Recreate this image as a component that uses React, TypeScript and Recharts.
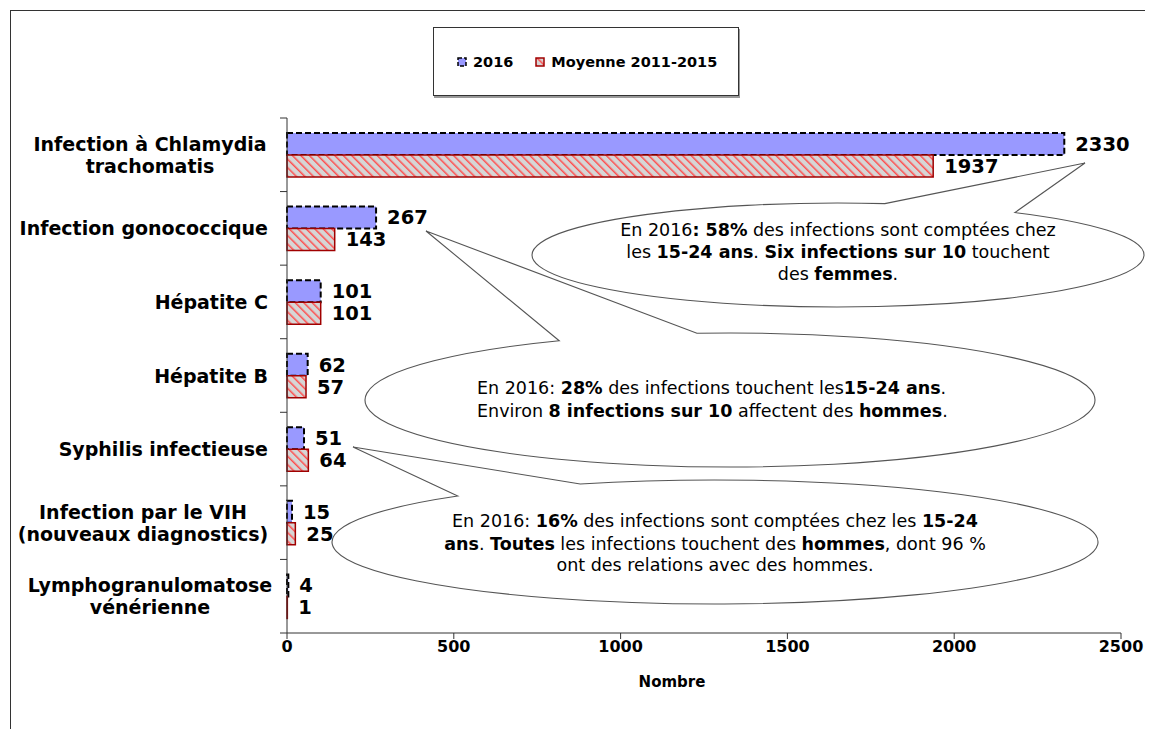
import { BarChart, Bar, XAxis, YAxis, Legend, LabelList } from "recharts";

const categories = [
  "Infection à Chlamydia\ntrachomatis",
  "Infection gonococcique",
  "Hépatite C",
  "Hépatite B",
  "Syphilis infectieuse",
  "Infection par le VIH\n(nouveaux diagnostics)",
  "Lymphogranulomatose\nvénérienne",
];
const cases2016 = [2330, 267, 101, 62, 51, 15, 4];
const average2011to2015 = [1937, 143, 101, 57, 64, 25, 1];
const xTicks = [0, 500, 1000, 1500, 2000, 2500];
const seriesNames = ["2016", "Moyenne 2011-2015"];

const data = categories.map((name, i) => ({
  name,
  current: cases2016[i],
  average: average2011to2015[i],
}));

const W = 1145;
const H = 721;
const MARGIN = { top: 110, right: 32, bottom: 36, left: 0 };
const Y_AXIS_W = 279;
const X_AXIS_H = 60;
const BAND = (H - MARGIN.top - MARGIN.bottom - X_AXIS_H) / categories.length;
const FONT = "'DejaVu Sans', Verdana, sans-serif";
const AXIS = "#333";

function CategoryTick(props: any) {
  const { y, payload, index } = props;
  const lines = String(payload.value).split("\n");
  const multi = lines.length > 1;
  // the two-line labels are centred; the VIH one sits a little further left
  const centre = index === 5 ? 135 : 142;
  return (
    <g>
      {index === 0 && (
        <line x1={Y_AXIS_W - 7} x2={Y_AXIS_W} y1={y - BAND / 2} y2={y - BAND / 2} stroke={AXIS} />
      )}
      <line x1={Y_AXIS_W - 7} x2={Y_AXIS_W} y1={y + BAND / 2} y2={y + BAND / 2} stroke={AXIS} />
      <text
        fontFamily={FONT}
        fontSize={19}
        fontWeight="bold"
        fill="#000"
        textAnchor={multi ? "middle" : "end"}
      >
        {lines.map((line, i) => (
          <tspan key={i} x={multi ? centre : 260} y={y + (i - (lines.length - 1) / 2) * 22 + 7}>
            {line}
          </tspan>
        ))}
      </text>
    </g>
  );
}

function LegendIcon({ index }: { index: number }) {
  return (
    <svg width={10} height={10} style={{ marginRight: 6, flex: "none" }}>
      {index === 0 ? (
        <rect x={1} y={1} width={8} height={8} fill="#9999ff" stroke="#000" strokeWidth={1.5} strokeDasharray="4 2" />
      ) : (
        <rect x={1} y={1} width={8} height={8} fill="url(#hatch)" stroke="#a00000" strokeWidth={1.5} />
      )}
    </svg>
  );
}

function LegendBox() {
  return (
    <div
      style={{
        boxSizing: "border-box",
        width: 306,
        height: 69,
        border: "1px solid #333",
        boxShadow: "1px 2px 0 #999",
        background: "#fff",
        display: "flex",
        alignItems: "center",
        paddingLeft: 23,
        fontFamily: FONT,
        fontSize: 14.5,
        fontWeight: "bold",
        color: "#000",
        whiteSpace: "nowrap",
      }}
    >
      {seriesNames.map((name, i) => (
        <span key={name} style={{ display: "flex", alignItems: "center", marginRight: 22 }}>
          <LegendIcon index={i} />
          {name}
        </span>
      ))}
    </div>
  );
}

type Pt = [number, number];

function ellipsePoint(cx: number, cy: number, rx: number, ry: number, deg: number): Pt {
  const t = (deg * Math.PI) / 180;
  return [cx + rx * Math.cos(t), cy + ry * Math.sin(t)];
}

interface CalloutProps {
  cx: number;
  cy: number;
  rx: number;
  ry: number;
  tip: Pt;
  from: number;
  to: number;
}

// oval speech bubble whose wedge leaves the rim between two angles
function Callout({ cx, cy, rx, ry, tip, from, to }: CalloutProps) {
  const a = ellipsePoint(cx, cy, rx, ry, from);
  const b = ellipsePoint(cx, cy, rx, ry, to);
  const d = `M ${a[0]} ${a[1]} L ${tip[0]} ${tip[1]} L ${b[0]} ${b[1]} A ${rx} ${ry} 0 1 1 ${a[0]} ${a[1]} Z`;
  return <path d={d} fill="#fff" stroke="#555" strokeWidth={1.1} />;
}

function Notes() {
  const txt = { fontFamily: FONT, fontSize: 17.5, fill: "#000" };
  return (
    <svg
      width={W}
      height={H}
      style={{ position: "absolute", left: 0, top: 0, pointerEvents: "none" }}
    >
      <g transform="translate(-8,-8)">
        <Callout cx={730} cy={400} rx={365} ry={67} tip={[426, 231]} from={-117.9} to={-95.2} />
        <Callout cx={838} cy={255} rx={306} ry={52} tip={[1085, 163]} from={-81.2} to={-54.7} />
        <Callout cx={715} cy={542} rx={383} ry={62} tip={[353, 447]} from={-132.2} to={-110.6} />

        <text {...txt} textAnchor="middle">
          <tspan x={838} y={236}>
            En 2016<tspan fontWeight="bold">: 58%</tspan> des infections sont comptées chez
          </tspan>
          <tspan x={838} y={258}>
            les <tspan fontWeight="bold">15-24 ans</tspan>. <tspan fontWeight="bold">Six infections sur 10</tspan> touchent
          </tspan>
          <tspan x={838} y={280}>
            des <tspan fontWeight="bold">femmes</tspan>.
          </tspan>
        </text>

        <text {...txt}>
          <tspan x={477} y={394}>
            En 2016: <tspan fontWeight="bold">28%</tspan> des infections touchent les<tspan fontWeight="bold">15-24 ans</tspan>.
          </tspan>
          <tspan x={477} y={417}>
            Environ <tspan fontWeight="bold">8 infections sur 10</tspan> affectent des <tspan fontWeight="bold">hommes</tspan>.
          </tspan>
        </text>

        <text {...txt} textAnchor="middle">
          <tspan x={715} y={527}>
            En 2016: <tspan fontWeight="bold">16%</tspan> des infections sont comptées chez les <tspan fontWeight="bold">15-24</tspan>
          </tspan>
          <tspan x={715} y={550}>
            <tspan fontWeight="bold">ans</tspan>. <tspan fontWeight="bold">Toutes</tspan> les infections touchent des <tspan fontWeight="bold">hommes</tspan>, dont 96 %
          </tspan>
          <tspan x={715} y={571}>
            ont des relations avec des hommes.
          </tspan>
        </text>
      </g>
    </svg>
  );
}

const valueLabel = {
  fill: "#000",
  stroke: "none",
  fontSize: 19.5,
  fontWeight: "bold",
  fontFamily: FONT,
};

export default function App() {
  return (
    <div style={{ position: "relative", width: W, height: H, fontFamily: FONT }}>
      {/* hatch fill for the 2011-2015 average */}
      <svg width={0} height={0} style={{ position: "absolute" }}>
        <defs>
          <pattern id="hatch" width={6} height={6} patternUnits="userSpaceOnUse" patternTransform="rotate(-45)">
            <rect width={6} height={6} fill="#d6d6d6" />
            <line x1={0} y1={0} x2={0} y2={6} stroke="#ff4d4d" strokeWidth={3} />
          </pattern>
        </defs>
      </svg>

      {/* frame edges */}
      <div style={{ position: "absolute", left: 2, top: 2, width: W - 2, height: 1, background: "#333" }} />
      <div style={{ position: "absolute", left: 2, top: 2, width: 1, height: H - 2, background: "#333" }} />

      <BarChart width={W} height={H} data={data} layout="vertical" margin={MARGIN} barGap={0}>
        <XAxis
          type="number"
          domain={[0, 2500]}
          ticks={xTicks}
          height={X_AXIS_H}
          stroke={AXIS}
          tickSize={6}
          tick={{ fill: "#000", fontSize: 16, fontWeight: "bold", fontFamily: FONT }}
          label={{
            value: "Nombre",
            position: "insideBottom",
            offset: 6,
            dx: -32,
            fill: "#000",
            fontSize: 15,
            fontWeight: "bold",
            fontFamily: FONT,
          }}
        />
        <YAxis
          type="category"
          dataKey="name"
          width={Y_AXIS_W}
          stroke={AXIS}
          tickLine={false}
          interval={0}
          tick={<CategoryTick />}
        />
        <Legend
          layout="vertical"
          verticalAlign="middle"
          align="center"
          wrapperStyle={{ position: "absolute", top: 19, left: 425, width: 306, height: 69 }}
          content={() => <LegendBox />}
        />
        <Bar
          dataKey="current"
          name={seriesNames[0]}
          fill="#9999ff"
          stroke="#000"
          strokeWidth={2}
          strokeDasharray="6 3"
          barSize={22}
          isAnimationActive={false}
        >
          <LabelList dataKey="current" position="right" offset={11} {...valueLabel} />
        </Bar>
        <Bar
          dataKey="average"
          name={seriesNames[1]}
          fill="url(#hatch)"
          stroke="#a00000"
          strokeWidth={1.5}
          barSize={22}
          isAnimationActive={false}
        >
          <LabelList dataKey="average" position="right" offset={11} {...valueLabel} />
        </Bar>
      </BarChart>

      <Notes />
    </div>
  );
}
